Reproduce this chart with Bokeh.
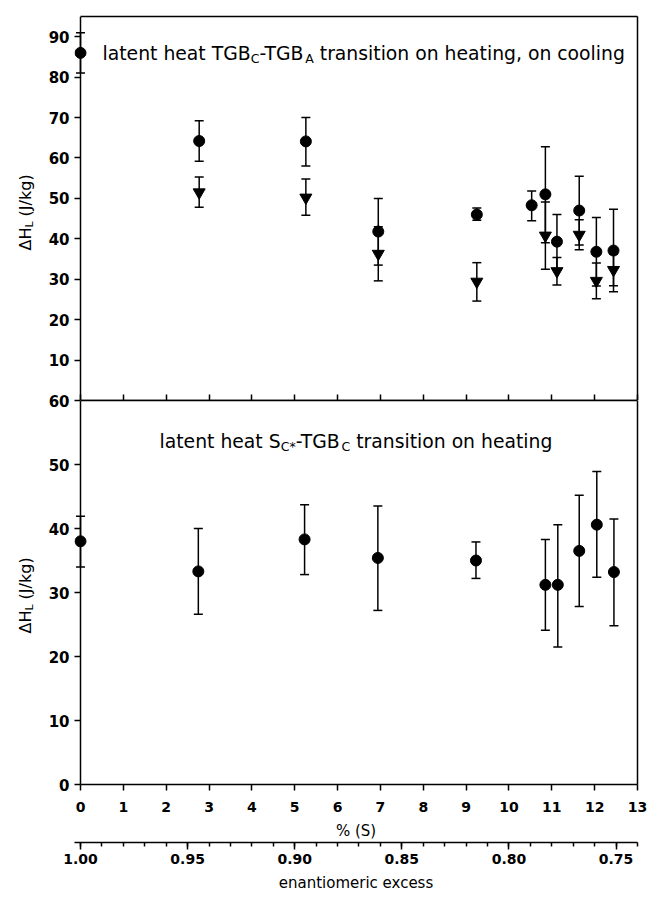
import math
from bokeh.plotting import figure
from bokeh.models import (Range1d, LinearAxis, FixedTicker, Whisker, TeeHead,
                          ColumnDataSource, Label, PrintfTickFormatter, Span)
from bokeh.layouts import column, row
from bokeh.embed import file_html
from bokeh.resources import INLINE

# ---------------- data ----------------
# top panel: latent heat TGBC-TGBA, heating (circles)
heat_x = [0.0, 2.77, 5.26, 6.95, 9.25, 10.53, 10.85, 11.12, 11.64, 12.04, 12.44]
heat_y = [86.0, 64.2, 64.1, 41.8, 46.0, 48.3, 51.0, 39.3, 47.0, 36.8, 37.1]
heat_lo = [81.0, 59.2, 58.0, 33.5, 44.6, 44.5, 39.0, 32.6, 38.5, 28.3, 26.9]
heat_hi = [91.0, 69.2, 70.0, 50.0, 47.6, 51.8, 62.8, 46.0, 55.5, 45.3, 47.3]

# top panel: cooling (down triangles)
cool_x = [2.77, 5.26, 6.95, 9.25, 10.85, 11.12, 11.64, 12.04, 12.44]
cool_y = [51.5, 50.2, 36.3, 29.4, 40.8, 32.0, 41.0, 29.6, 32.3]
cool_lo = [47.8, 45.8, 29.6, 24.6, 32.5, 28.6, 37.3, 25.2, 28.4]
cool_hi = [55.3, 54.8, 43.0, 34.1, 49.1, 35.4, 44.7, 34.0, 36.2]

# bottom panel: latent heat SC*-TGBC on heating
sc_x = [0.0, 2.75, 5.23, 6.94, 9.23, 10.85, 11.14, 11.64, 12.05, 12.45]
sc_y = [38.0, 33.3, 38.3, 35.4, 35.0, 31.2, 31.2, 36.5, 40.6, 33.2]
sc_lo = [34.0, 26.6, 32.8, 27.2, 32.2, 24.1, 21.5, 27.8, 32.4, 24.8]
sc_hi = [41.9, 40.0, 43.7, 43.5, 37.9, 38.3, 40.6, 45.2, 48.9, 41.5]

# ticks
s_ticks = list(range(0, 14))
top_y_ticks = [10, 20, 30, 40, 50, 60, 70, 80, 90]
bot_y_ticks = [0, 10, 20, 30, 40, 50, 60]
ee_ticks = [1.00, 0.95, 0.90, 0.85, 0.80, 0.75]
ee_minor = [round(1.0 - 0.01 * i, 2) for i in range(0, 27)]

FONT = "DejaVu Sans"
W = {' ': .318, 'a': .613, 'c': .550, 'e': .615, 'g': .635, 'h': .634, 'i': .278,
     'l': .278, 'n': .634, 'o': .612, 'r': .411, 's': .521, 't': .392, 'x': .592,
     'm': .974, 'k': .579, 'T': .611, 'G': .775, 'B': .686, 'C': .698, 'A': .684,
     'S': .635, 'H': .752, 'L': .557, 'Δ': .684, '-': .361, ',': .318, '*': .5,
     '(': .390, ')': .390, '/': .337, 'J': .295}


def tw(s, size):
    return sum(W.get(c, 0.6) for c in s) * size


def rich(p, x0, y0, pieces, rotated=False):
    """pieces: (text, font px, baseline shift down, gap before)"""
    pos = y0 if rotated else x0
    for text, size, shift, gap in pieces:
        pos += gap
        kw = dict(text=text, x_units="screen", y_units="screen", text_font=FONT,
                  text_font_size=f"{size}px", text_color="black",
                  text_baseline="alphabetic", text_align="left")
        if rotated:
            lab = Label(x=x0 + shift, y=pos, angle=math.pi / 2, **kw)
        else:
            lab = Label(x=pos, y=y0 - shift, **kw)
        p.add_layout(lab)
        pos += tw(text, size)


def frame_lines(p):
    """left line at x=0, right border, top border"""
    p.add_layout(Span(location=0, dimension="height", line_color="black",
                      line_width=1.5))
    r = LinearAxis(ticker=FixedTicker(ticks=[], minor_ticks=[]), axis_line_width=1.5)
    p.add_layout(r, "right")
    t = LinearAxis(ticker=FixedTicker(ticks=[], minor_ticks=[]),
                   axis_line_width=1.5, bounds=(0, 13))
    p.add_layout(t, "above")


def style_y(p, ticks):
    ax = p.yaxis[0]
    ax.ticker = FixedTicker(ticks=ticks, minor_ticks=[])
    ax.axis_line_color = None
    ax.major_tick_out = 0
    ax.major_tick_in = 6
    ax.major_tick_line_width = 1.5
    ax.major_label_text_font = FONT
    ax.major_label_text_font_style = "bold"
    ax.major_label_text_font_size = "15px"
    ax.major_label_text_color = "black"
    ax.major_label_standoff = 5


def errbars(p, xs, lo, hi):
    src = ColumnDataSource(dict(x=xs, lo=lo, hi=hi))
    p.add_layout(Whisker(source=src, base="x", lower="lo", upper="hi",
                         line_width=1.5, line_color="black",
                         upper_head=TeeHead(size=9, line_width=1.5, line_color="black"),
                         lower_head=TeeHead(size=9, line_width=1.5, line_color="black")))


X0 = -0.14
common = dict(frame_width=563, frame_height=384, output_backend="svg",
              toolbar_location=None, min_border_left=34, min_border_right=10)

# ---------------- top panel ----------------
p1 = figure(x_range=Range1d(X0, 13), y_range=Range1d(0, 95),
            min_border_top=16, min_border_bottom=0, **common)
p1.grid.visible = False
p1.outline_line_color = None
xa = p1.xaxis[0]
xa.ticker = FixedTicker(ticks=[], minor_ticks=s_ticks)
xa.bounds = (0, 13)
xa.minor_tick_in = 6
xa.minor_tick_out = 0
xa.minor_tick_line_width = 1.5
xa.major_label_standoff = 0
xa.axis_line_width = 1.5
style_y(p1, top_y_ticks)
frame_lines(p1)

errbars(p1, heat_x, heat_lo, heat_hi)
errbars(p1, cool_x, cool_lo, cool_hi)
p1.scatter(heat_x, heat_y, marker="circle", size=11, color="black")
p1.scatter(cool_x, cool_y, marker="inverted_triangle", size=12, color="black")

rich(p1, 28, 347, [("latent heat TGB", 18.8, 0, 0), ("C", 12.5, 5, 0),
                   ("-TGB", 18.8, 0, 0), ("A", 12.5, 5, 0),
                   ("transition on heating, on cooling", 18.8, 0, 6)])

# ---------------- bottom panel ----------------
p2 = figure(x_range=Range1d(X0, 13), y_range=Range1d(0, 60),
            min_border_top=9, min_border_bottom=0, **common)
p2.margin = (-9, 0, 0, 0)
p2.border_fill_alpha = 0
p2.background_fill_alpha = 0
p2.grid.visible = False
p2.outline_line_color = None
xb = p2.xaxis[0]
xb.ticker = FixedTicker(ticks=s_ticks, minor_ticks=[])
xb.bounds = (0, 13)
xb.major_tick_in = 0
xb.major_tick_out = 6
xb.major_tick_line_width = 1.5
xb.axis_line_width = 1.5
xb.major_label_text_font = FONT
xb.major_label_text_font_style = "bold"
xb.major_label_text_font_size = "14px"
xb.major_label_text_color = "black"
xb.major_label_standoff = 11
xb.axis_label = "% (S)"
xb.axis_label_text_font = FONT
xb.axis_label_text_font_style = "normal"
xb.axis_label_text_font_size = "15px"
xb.axis_label_text_color = "black"
xb.axis_label_standoff = 7
style_y(p2, bot_y_ticks)
frame_lines(p2)

p2.extra_x_ranges = {"ee": Range1d(1.0 - 2 * X0 / 100, 0.74)}
ee_ax = LinearAxis(x_range_name="ee",
                   ticker=FixedTicker(ticks=ee_ticks, minor_ticks=ee_minor),
                   formatter=PrintfTickFormatter(format="%.2f"),
                   axis_label="enantiomeric excess")
ee_ax.major_tick_in = 0
ee_ax.major_tick_out = 7
ee_ax.minor_tick_in = 0
ee_ax.minor_tick_out = 4
ee_ax.major_tick_line_width = 1.5
ee_ax.minor_tick_line_width = 1.5
ee_ax.axis_line_width = 1.5
ee_ax.major_label_text_font = FONT
ee_ax.major_label_text_font_style = "bold"
ee_ax.major_label_text_font_size = "14px"
ee_ax.major_label_text_color = "black"
ee_ax.major_label_standoff = 4
ee_ax.axis_label_text_font = FONT
ee_ax.axis_label_text_font_style = "normal"
ee_ax.axis_label_text_font_size = "15px"
ee_ax.axis_label_text_color = "black"
ee_ax.axis_label_standoff = 7
p2.add_layout(ee_ax, "below")

errbars(p2, sc_x, sc_lo, sc_hi)
p2.scatter(sc_x, sc_y, marker="circle", size=11, color="black")

rich(p2, 85, 343, [("latent heat S", 18.8, 0, 0), ("C*", 12.5, 5, 0),
                   ("-TGB", 18.8, 0, 0), ("C", 12.5, 5, 0),
                   ("transition on heating", 18.8, 0, 6)])

# ---------------- y-axis titles (own narrow strip) ----------------
lab = figure(frame_width=40, frame_height=784, x_range=Range1d(0, 40),
             y_range=Range1d(0, 784), output_backend="svg", toolbar_location=None,
             x_axis_location=None, y_axis_location=None,
             min_border_left=0, min_border_right=0, min_border_top=0,
             min_border_bottom=0)
lab.grid.visible = False
lab.outline_line_color = None
rich(lab, 25, 534, [("ΔH", 16, 0, 0), ("L", 11, 4, 0), ("(J/kg)", 16, 0, 5)],
     rotated=True)
rich(lab, 25, 151, [("ΔH", 16, 0, 0), ("L", 11, 4, 0), ("(J/kg)", 16, 0, 5)],
     rotated=True)

layout = row(lab, column(p1, p2, spacing=0), spacing=0)
open("out.html", "w").write(file_html(layout, INLINE))
